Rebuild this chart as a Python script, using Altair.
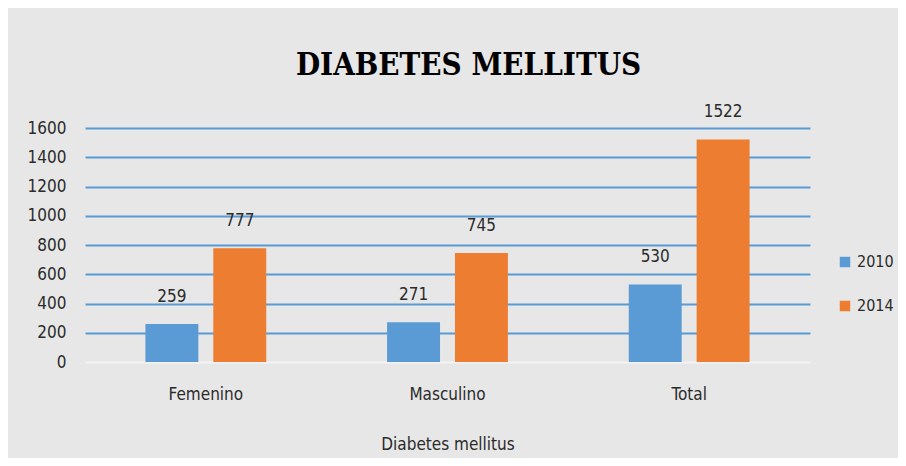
import altair as alt
import pandas as pd

categories = ["Femenino", "Masculino", "Total"]
years = ["2010", "2014"]
values_2010 = [259, 271, 530]
values_2014 = [777, 745, 1522]
y_ticks = [0, 200, 400, 600, 800, 1000, 1200, 1400, 1600]

rows = []
for c, v1, v2 in zip(categories, values_2010, values_2014):
    rows.append({"cat": c, "year": "2010", "value": v1})
    rows.append({"cat": c, "year": "2014", "value": v2})
df = pd.DataFrame(rows)

FONT = "Liberation Sans Narrow, DejaVu Sans Condensed, sans-serif"
TXT = "#2b2b2b"

x = alt.X("cat:N", sort=categories, title="Diabetes mellitus",
          scale=alt.Scale(paddingInner=0.5, paddingOuter=0.25),
          axis=alt.Axis(labelAngle=0, ticks=False, labelPadding=24, titlePadding=34,
                        domainColor="#f2f2f2", domainWidth=1.5,
                        labelFontSize=17, titleFontSize=17, titleFontWeight="normal",
                        labelFont=FONT, titleFont=FONT, labelColor=TXT, titleColor=TXT))
y = alt.Y("value:Q", title=None,
          scale=alt.Scale(domain=[0, 1600], nice=False),
          axis=alt.Axis(values=y_ticks, format="d", grid=True,
                        gridColor=alt.condition("datum.value === 0", alt.value("#f2f2f2"), alt.value("#5b9bd5")),
                        gridWidth=2,
                        domain=False, ticks=False, labelPadding=19,
                        labelFontSize=17, labelFont=FONT, labelColor=TXT))
xo = alt.XOffset("year:N", sort=years, scale=alt.Scale(paddingInner=0.22, paddingOuter=0))

base = alt.Chart(df)

bars = base.mark_bar().encode(
    x=x, y=y, xOffset=xo,
    color=alt.Color("year:N", sort=years,
                    scale=alt.Scale(domain=years, range=["#5b9bd5", "#ed7d31"]),
                    legend=alt.Legend(title=None, orient="none", legendX=752, legendY=126,
                                      symbolType="square", symbolSize=110, symbolStrokeWidth=0,
                                      rowPadding=28, labelFontSize=16, labelFont=FONT,
                                      labelColor=TXT, labelOffset=4)),
)

labels = base.mark_text(baseline="middle", dy=-27, fontSize=17, font=FONT, color=TXT).encode(
    x=x, y=y, xOffset=xo, text=alt.Text("value:Q"),
)

chart = alt.layer(bars, labels).properties(
    width=725, height=234,
    title=alt.TitleParams("DIABETES MELLITUS", fontSize=31, font="DejaVu Serif Condensed",
                          fontWeight="bold", color="#000000", offset=21, dx=21, anchor="middle"),
    autosize=alt.AutoSizeParams(type="none"),
    padding={"left": 77, "top": 120, "right": 88, "bottom": 96},
    background="#e7e7e7",
).configure_view(stroke=None)

chart.save("out.html", embed_options={"renderer": "svg", "actions": False})
